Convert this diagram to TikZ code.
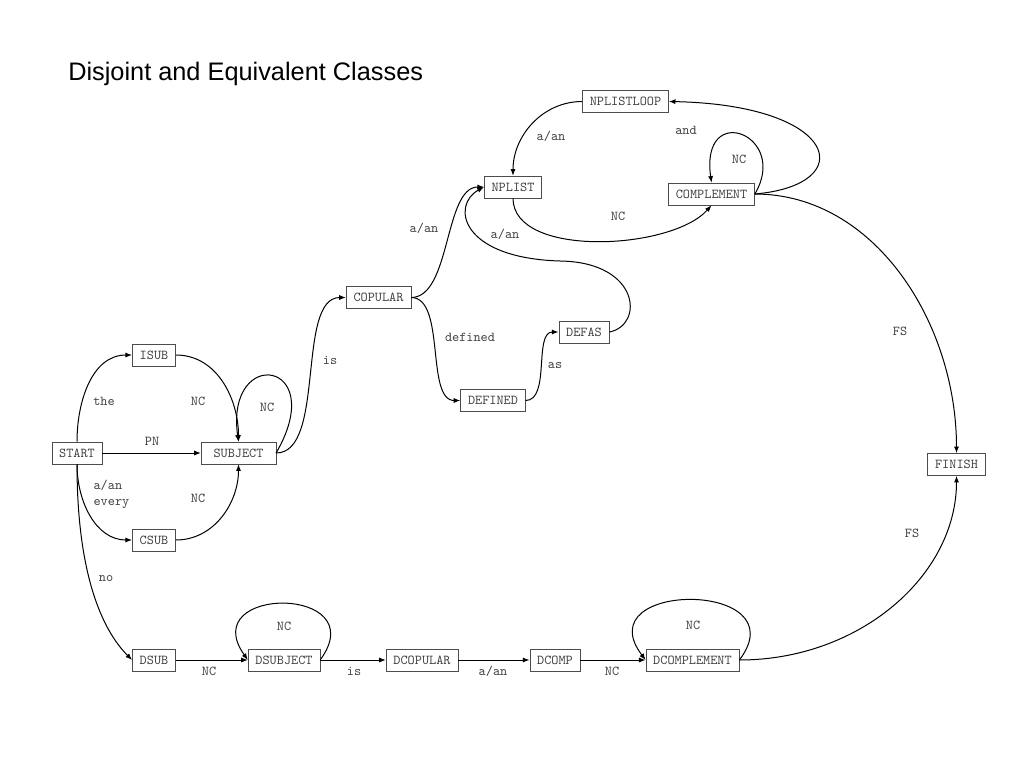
\documentclass[tikz,border=0pt]{standalone}
\usepackage{fontspec}
\setmainfont{Liberation Sans}
\usetikzlibrary{arrows.meta}

\begin{document}
\begin{tikzpicture}[x=0.75pt,y=-0.75pt,>={Latex[length=5pt,width=3.8pt]},
  state/.style={draw=black!70,text=black!75,font=\ttfamily\fontsize{10.2}{11}\selectfont,
    inner xsep=5.5pt,inner ysep=2pt,minimum height=16.5pt},
  lbl/.style={text=black!75,font=\ttfamily\fontsize{10.2}{11}\selectfont,inner sep=1pt},
  edge/.style={->,line width=0.75pt}]
  \useasboundingbox (0,0) rectangle (1024,768);
  \node[anchor=base west,inner sep=0pt,font=\fontsize{19}{22}\selectfont] (title) at (68,80) {Disjoint and Equivalent Classes};

  % states
  \node[state] (START) at (77,453) {START};
  \node[state] (ISUB) at (154,355) {ISUB};
  \node[state] (CSUB) at (154,540) {CSUB};
  \node[state,minimum width=56pt] (SUBJECT) at (238.5,453) {SUBJECT};
  \node[state] (COPULAR) at (378.5,297.5) {COPULAR};
  \node[state] (DEFINED) at (493,400.5) {DEFINED};
  \node[state] (DEFAS) at (584,332) {DEFAS};
  \node[state] (NPLIST) at (513,187) {NPLIST};
  \node[state] (NPLISTLOOP) at (625.5,101.5) {NPLISTLOOP};
  \node[state] (COMPLEMENT) at (711.5,194) {COMPLEMENT};
  \node[state] (FINISH) at (956.5,464.5) {FINISH};
  \node[state] (DSUB) at (154,660) {DSUB};
  \node[state] (DSUBJECT) at (284,660) {DSUBJECT};
  \node[state] (DCOPULAR) at (422,660) {DCOPULAR};
  \node[state] (DCOMP) at (555,660) {DCOMP};
  \node[state] (DCOMPLEMENT) at (692.5,660) {DCOMPLEMENT};
  \coordinate (defasbend) at (560,261);

  % subject part
  \draw[edge] (START.north) to[out=90,in=180] (ISUB.west);
  \draw[edge] (START.south) to[out=-90,in=180] (CSUB.west);
  \draw[edge] (START) -- (SUBJECT);
  \draw[edge] (ISUB.east) to[out=0,in=90] (SUBJECT.north);
  \draw[edge] (CSUB.east) to[out=0,in=-90] (SUBJECT.south);
  \draw[edge] (SUBJECT.east) .. controls (330,360) and (225,345) .. (SUBJECT.north);
  \draw[edge] (SUBJECT.east) .. controls +(50,0) and +(-50,0) .. (COPULAR.west);

  % copular part
  \draw[edge] (COPULAR.east) .. controls +(40,0) and +(-40,0) .. (NPLIST.west);
  \draw[edge] (COPULAR.east) .. controls +(35,0) and +(-35,0) .. (DEFINED.west);
  \draw[edge] (DEFINED.east) .. controls +(25,0) and +(-25,0) .. (DEFAS.west);
  \draw[edge] (DEFAS.east) .. controls +(35,-7) and +(80,1) .. (defasbend)
    .. controls +(-100,-3) and +(-33,18) .. (NPLIST.west);
  \draw[edge] (NPLIST.south) .. controls +(0,60) and +(-40,45) .. (COMPLEMENT.south);
  \draw[edge] (NPLISTLOOP.west) to[out=180,in=90] (NPLIST.north);
  \draw[edge] (COMPLEMENT.east) .. controls (860,185) and (840,105) .. (NPLISTLOOP.east);
  \draw[edge] (COMPLEMENT.east) .. controls (790,135) and (700,100) .. (COMPLEMENT.north);
  \draw[edge] (COMPLEMENT.east) .. controls +(120,0) and +(0,-130) .. (FINISH.north);

  % negative part
  \draw[edge] (START.south) .. controls +(0,110) and +(-30,-30) .. (DSUB.west);
  \draw[edge] (DSUB) -- (DSUBJECT);
  \draw[edge] (DSUBJECT.east) .. controls (375,585) and (195,585) .. (DSUBJECT.west);
  \draw[edge] (DSUBJECT) -- (DCOPULAR);
  \draw[edge] (DCOPULAR) -- (DCOMP);
  \draw[edge] (DCOMP) -- (DCOMPLEMENT);
  \draw[edge] (DCOMPLEMENT.east) .. controls (800,580) and (585,580) .. (DCOMPLEMENT.west);
  \draw[edge] (DCOMPLEMENT.east) .. controls +(120,0) and +(0,100) .. (FINISH.south);

  % labels
  \node[lbl] (lthe) at (104,401) {the};
  \node[lbl] (lisub) at (198,401) {NC};
  \node[lbl] (lsubloop) at (267,407) {NC};
  \node[lbl] (lpn) at (152,441) {PN};
  \node[lbl,align=left,anchor=west] (lcsub) at (92,494) {a/an\\[1pt]every};
  \node[lbl] (lcsubj) at (198,498) {NC};
  \node[lbl] (lno) at (106,579) {no};
  \node[lbl] (lis) at (330,360) {is};
  \node[lbl] (lcop) at (424,228) {a/an};
  \node[lbl] (ldefined) at (470,337) {defined};
  \node[lbl] (las) at (555,366) {as};
  \node[lbl] (ldefas) at (505,234) {a/an};
  \node[lbl] (lloop) at (551,136) {a/an};
  \node[lbl] (land) at (686,130) {and};
  \node[lbl] (lcomploop) at (739,159) {NC};
  \node[lbl] (lcomp) at (618,216) {NC};
  \node[lbl] (lfs) at (900,331) {FS};
  \node[lbl] (ldfs) at (912,533) {FS};
  \node[lbl] (ldsub) at (209,671) {NC};
  \node[lbl] (ldsubloop) at (284,626) {NC};
  \node[lbl] (ldis) at (354,671) {is};
  \node[lbl] (ldan) at (493,671) {a/an};
  \node[lbl] (ldcomp) at (612,671) {NC};
  \node[lbl] (ldcomploop) at (693,625) {NC};
\end{tikzpicture}
\end{document}
